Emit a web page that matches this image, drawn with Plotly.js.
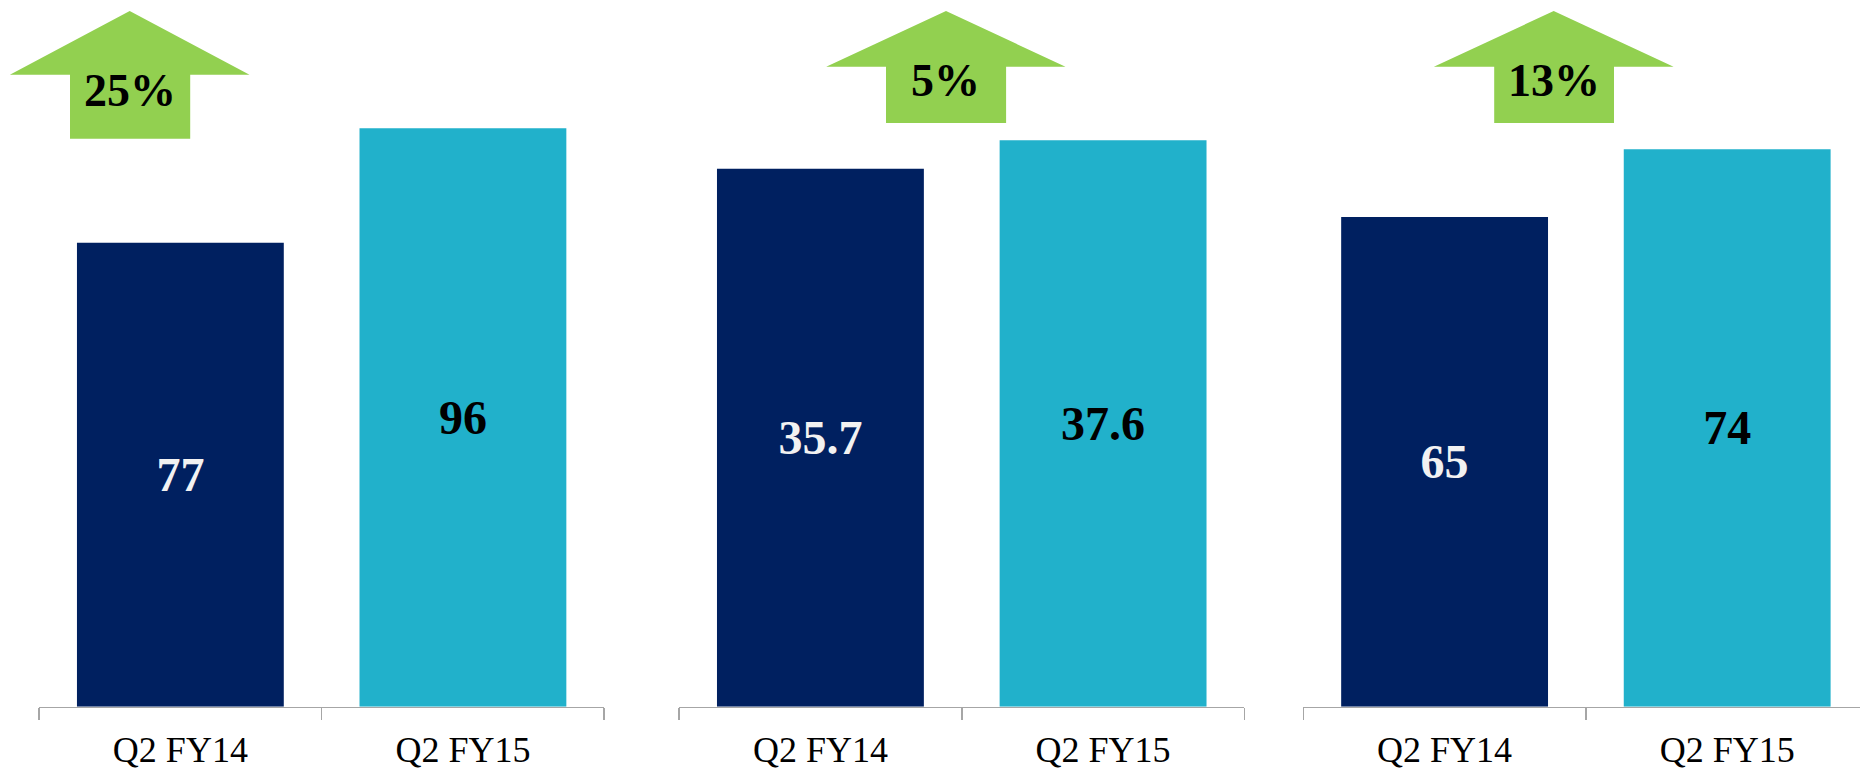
<!DOCTYPE html>
<html><head><meta charset="utf-8">
<script src="https://cdn.plot.ly/plotly-3.0.1.min.js"></script>
<style>html,body{margin:0;padding:0;background:#fff}#chart{width:1860px;height:773px}</style>
</head><body><div id="chart"></div>
<script>
// ---- data ----
const categories = ['Q2 FY14', 'Q2 FY15'];
const panel1Values = [77, 96];
const panel2Values = [35.7, 37.6];
const panel3Values = [65, 74];
const growthLabels = ['25%', '5%', '13%'];

// ---- styling / layout ----
const W = 1860, H = 773;
const NAVY = '#002060', TEAL = '#21B1CB', GREEN = '#92D050', AXIS = '#A6A6A6';
const FONT = '"Liberation Serif", "Times New Roman", serif';
const fx = px => px / W;
const fy = py => 1 - py / H;
const AXIS_Y = 706.7;

const panels = [
  {values: panel1Values, dom: [39.1, 604.2], yMax: 117.3, xr: [-0.5, 1.5]},
  {values: panel2Values, dom: [679.1, 1244.4], yMax: 46.9, xr: [-0.5, 1.5]},
  {values: panel3Values, dom: [1303.3, 1860], yMax: 93.8, xr: [-0.5, 1.47]}
];

const arrows = [
  {cx: 129.7, wl: 9.9, wr: 249.5, sl: 70, sr: 190.2, top: 11, wy: 74.7, bot: 138.7, ty: 90.7},
  {cx: 946, wl: 826.2, wr: 1065.5, sl: 886, sr: 1006.1, top: 11, wy: 66.7, bot: 123, ty: 80.5},
  {cx: 1553.7, wl: 1433.9, wr: 1673.6, sl: 1494.2, sr: 1614, top: 11, wy: 66.7, bot: 123, ty: 80.5}
];

const traces = [];
const layout = {
  width: W, height: H,
  margin: {l: 0, r: 0, t: 0, b: 0},
  paper_bgcolor: '#fff', plot_bgcolor: '#fff',
  showlegend: false,
  bargap: 0.268,
  shapes: [], annotations: []
};

panels.forEach((p, i) => {
  const s = i === 0 ? '' : String(i + 1);
  traces.push({
    type: 'bar',
    x: categories,
    y: p.values,
    xaxis: 'x' + s, yaxis: 'y' + s,
    marker: {color: [NAVY, TEAL]},
    text: p.values.map(v => String(v)),
    textposition: 'inside',
    insidetextanchor: 'middle',
    textangle: 0,
    textfont: {family: FONT, size: 48, weight: 'bold', color: ['#F2F2F2', '#000000']},
    hoverinfo: 'x+y'
  });
  layout['xaxis' + s] = {
    domain: [fx(p.dom[0]), fx(p.dom[1])],
    anchor: 'y' + s,
    type: 'category',
    range: p.xr,
    showline: true, linecolor: AXIS, linewidth: 1.5,
    ticks: 'outside', tickson: 'boundaries', ticklen: 12, tickcolor: AXIS, tickwidth: 1.5,
    ticklabelstandoff: 11,
    tickfont: {family: FONT, size: 36, color: '#000'},
    showgrid: false, zeroline: false, automargin: false, fixedrange: true
  };
  layout['yaxis' + s] = {
    domain: [fy(AXIS_Y), 1],
    anchor: 'x' + s,
    range: [0, p.yMax],
    showgrid: false, zeroline: false, showline: false, showticklabels: false,
    ticks: '', automargin: false, fixedrange: true
  };
});

arrows.forEach((a, i) => {
  const P = (x, y) => fx(x) + ',' + fy(y);
  layout.shapes.push({
    type: 'path', xref: 'paper', yref: 'paper',
    path: 'M' + P(a.wl, a.wy) + ' L' + P(a.cx, a.top) + ' L' + P(a.wr, a.wy) +
          ' L' + P(a.sr, a.wy) + ' L' + P(a.sr, a.bot) + ' L' + P(a.sl, a.bot) +
          ' L' + P(a.sl, a.wy) + ' Z',
    fillcolor: GREEN, line: {width: 0}, layer: 'above'
  });
  layout.annotations.push({
    xref: 'paper', yref: 'paper', x: fx(a.cx), y: fy(a.ty),
    xanchor: 'center', yanchor: 'middle', showarrow: false,
    text: growthLabels[i],
    font: {family: FONT, size: 46, weight: 'bold', color: '#000'}
  });
});

Plotly.newPlot('chart', traces, layout, {displayModeBar: false, staticPlot: true});
</script>
</body></html>
